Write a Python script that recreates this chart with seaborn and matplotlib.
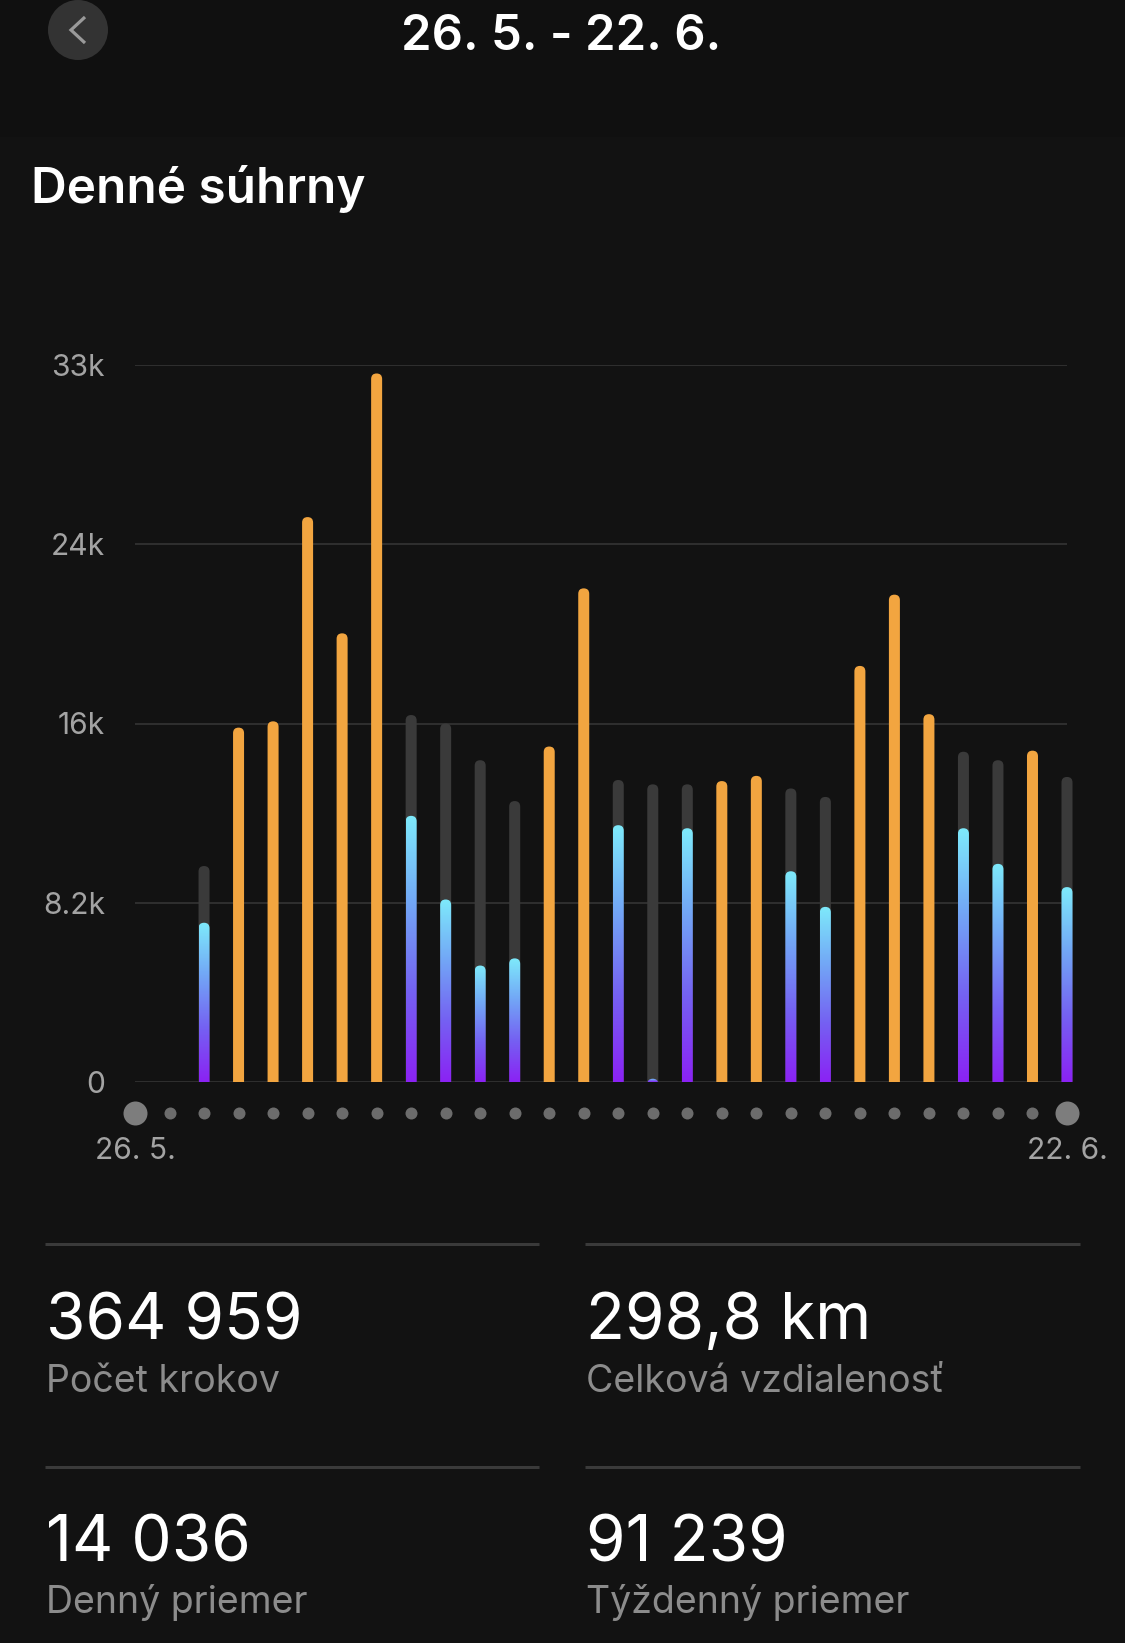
import numpy as np
import pandas as pd
import matplotlib
matplotlib.use("Agg")
import matplotlib.pyplot as plt
import matplotlib.transforms as mtransforms
from matplotlib.patches import FancyBboxPatch, Circle, Rectangle
from matplotlib.lines import Line2D
from matplotlib.colors import LinearSegmentedColormap
import seaborn as sns

# ---------------- data ----------------
days = ["26. 5.", "27. 5.", "28. 5.", "29. 5.", "30. 5.", "31. 5.",
        "1. 6.", "2. 6.", "3. 6.", "4. 6.", "5. 6.", "6. 6.", "7. 6.",
        "8. 6.", "9. 6.", "10. 6.", "11. 6.", "12. 6.", "13. 6.", "14. 6.",
        "15. 6.", "16. 6.", "17. 6.", "18. 6.", "19. 6.", "20. 6.",
        "21. 6.", "22. 6."]
steps = [0, 0, 7330, 16310, 16600, 26000, 20650, 32610, 12250, 8400,
         5360, 5690, 15440, 22720, 11820, 150, 11680, 13850, 14090, 9700,
         8060, 19150, 22430, 16930, 11680, 10040, 15250, 8970]
# goal shown as grey track on days where goal was not reached (NaN = goal reached / no data)
goal = [np.nan, np.nan, 9940, np.nan, np.nan, np.nan, np.nan, np.nan, 16890,
        16500, 14810, 12930, np.nan, np.nan, 13900, 13700, 13700, np.nan,
        np.nan, 13510, 13120, np.nan, np.nan, np.nan, 15200, 14810, np.nan,
        14040]
y_ticks = [0, 8250, 16500, 24750, 33000]
y_tick_labels = ["0", "8.2k", "16k", "24k", "33k"]
x_label_days = ["26. 5.", "22. 6."]
big_dot_days = ["26. 5.", "22. 6."]
header_title = "26. 5. - 22. 6."
section_title = "Denné súhrny"
stat_values = ["364 959", "298,8 km", "14 036", "91 239"]
stat_labels = ["Počet krokov", "Celková vzdialenosť", "Denný priemer", "Týždenný priemer"]

# ---------------- style ----------------
W, H = 1125, 1643
BG = "#121212"
HEADER_BG = "#101010"
ORANGE = "#F2A540"
TRACK = "#3a3a3a"
GRID = "#363636"
sns.set_theme(style="dark", rc={"axes.facecolor": BG, "figure.facecolor": BG})
plt.rcParams["font.family"] = ["Inter", "DejaVu Sans"]

fig = plt.figure(figsize=(W / 100, H / 100), dpi=100)
fig.patch.set_facecolor(BG)
px = mtransforms.Affine2D().scale(1 / W, -1 / H).translate(0, 1) + fig.transFigure

def pt(pixels):
    return pixels * 0.72

# header background
fig.patches.append(Rectangle((0, 0), W, 137, transform=px, facecolor=HEADER_BG,
                             edgecolor="none", zorder=0))
# back button
fig.patches.append(Circle((78, 30), 30, transform=px, facecolor="#333333",
                          edgecolor="none", zorder=1))
fig.lines.append(Line2D([85, 71, 85], [17, 30, 43], transform=px, color="#9a9a9a",
                        lw=pt(3.2), solid_joinstyle="miter", solid_capstyle="butt", zorder=2))
fig.text(561, 50, header_title, transform=px, ha="center", va="baseline",
         color="white", fontsize=pt(49), fontweight="semibold")
fig.text(31, 203, section_title, transform=px, ha="left", va="baseline",
         color="white", fontsize=pt(49.5), fontweight="semibold")

# ---------------- chart ----------------
ax_left, ax_right, ax_top, ax_bottom = 135, 1067, 365, 1082
ax = fig.add_axes([ax_left / W, 1 - ax_bottom / H, (ax_right - ax_left) / W,
                   (ax_bottom - ax_top) / H])
ax.set_facecolor("none")

df = pd.DataFrame({"day": days, "steps": steps, "goal": goal})
df["met"] = df["goal"].isna() & (df["steps"] > 0)
df["track"] = df["goal"].fillna(0)
df["orange"] = np.where(df["met"], df["steps"], 0)
df["progress"] = np.where(df["met"], 0, df["steps"])

bar_w = 11 / 34.5
layers = []
for col, color in [("track", TRACK), ("orange", ORANGE), ("progress", "#8B24F2")]:
    n0 = len(ax.patches)
    sns.barplot(data=df, x="day", y=col, order=days, color=color, width=bar_w,
                saturation=1, ax=ax, errorbar=None)
    layers.append((col, color, list(ax.patches[n0:])))

ax.set_xlim(0, len(days) - 1)
ax.set_ylim(y_ticks[0], y_ticks[-1])

# pixel scale -> rounded tops
x_per_px = (len(days) - 1) / (ax_right - ax_left)
y_per_px = (y_ticks[-1] - y_ticks[0]) / (ax_bottom - ax_top)
aspect = y_per_px / x_per_px
r_x = bar_w / 2
r_y = r_x * aspect

# bars may overhang the axes horizontally, but are cut at the zero line
clip_bbox = mtransforms.TransformedBbox(mtransforms.Bbox([[-0.05, 0.0], [1.05, 1.2]]),
                                        ax.transAxes)

cmap = LinearSegmentedColormap.from_list("grad", ["#8B22F4", "#7560F2", "#72A6F6", "#7EEAFB"])
grad = np.linspace(0, 1, 256).reshape(-1, 1)

for col, color, patches in layers:
    for p in patches:
        h = p.get_height()
        x0 = p.get_x()
        w = p.get_width()
        p.remove()
        if not np.isfinite(h) or h <= 0:
            continue
        box = FancyBboxPatch((x0, -2 * r_y), w, h + 2 * r_y,
                             boxstyle=f"round,pad=0,rounding_size={r_x}",
                             mutation_aspect=aspect, transform=ax.transData,
                             facecolor=color, edgecolor="none", zorder=3)
        if col == "progress":
            im = ax.imshow(grad, extent=(x0, x0 + w, 0, h), origin="lower", cmap=cmap,
                           aspect="auto", interpolation="bilinear", zorder=4)
            im.set_clip_path(box)
            im.set_clip_box(clip_bbox)
        else:
            ax.add_patch(box)
            box.set_clip_path(None)
            box.set_clip_box(clip_bbox)

ax.set_xlim(0, len(days) - 1)
ax.set_ylim(y_ticks[0], y_ticks[-1])

# grid and ticks
ax.set_yticks(y_ticks, y_tick_labels)
ax.grid(axis="y", color=GRID, lw=pt(1.6))
ax.grid(axis="x", visible=False)
ax.set_axisbelow(True)
ax.tick_params(axis="y", length=0, pad=pt(ax_left - 105), labelsize=pt(30), labelcolor="#a3a3a3")
xt = [days.index(d) for d in x_label_days]
ax.set_xticks(xt, x_label_days)
ax.tick_params(axis="x", length=0, pad=pt(55), labelsize=pt(30), labelcolor="#a3a3a3")
for s in ax.spines.values():
    s.set_visible(False)
ax.set_xlabel("")
ax.set_ylabel("")

# day dots
dot_y = -(1113 - ax_bottom) / (ax_bottom - ax_top)
xs = np.arange(len(days))
big = np.array([d in big_dot_days for d in days])
ax.scatter(xs[~big], np.full((~big).sum(), dot_y), s=pt(12) ** 2, color="#6c6c6c",
           transform=ax.get_xaxis_transform(), clip_on=False, linewidths=0, zorder=5)
ax.scatter(xs[big], np.full(big.sum(), dot_y), s=pt(24) ** 2, color="#7d7d7d",
           transform=ax.get_xaxis_transform(), clip_on=False, linewidths=0, zorder=5)

# ---------------- stats ----------------
cols_x = [(45, 539), (585, 1080)]
rows = [(1244, 1339, 1392), (1467, 1561, 1613)]
k = 0
for (line_y, val_y, lab_y) in rows:
    for (x0, x1) in cols_x:
        fig.lines.append(Line2D([x0, x1], [line_y, line_y], transform=px, color="#3a3a3a",
                                lw=pt(3), solid_capstyle="butt"))
        fig.text(x0 + 1, val_y, stat_values[k], transform=px, ha="left", va="baseline",
                 color="white", fontsize=pt(64))
        fig.text(x0 + 1, lab_y, stat_labels[k], transform=px, ha="left", va="baseline",
                 color="#8c8c8c", fontsize=pt(37.5))
        k += 1

fig.savefig("out.png", dpi=100, facecolor=fig.get_facecolor())
